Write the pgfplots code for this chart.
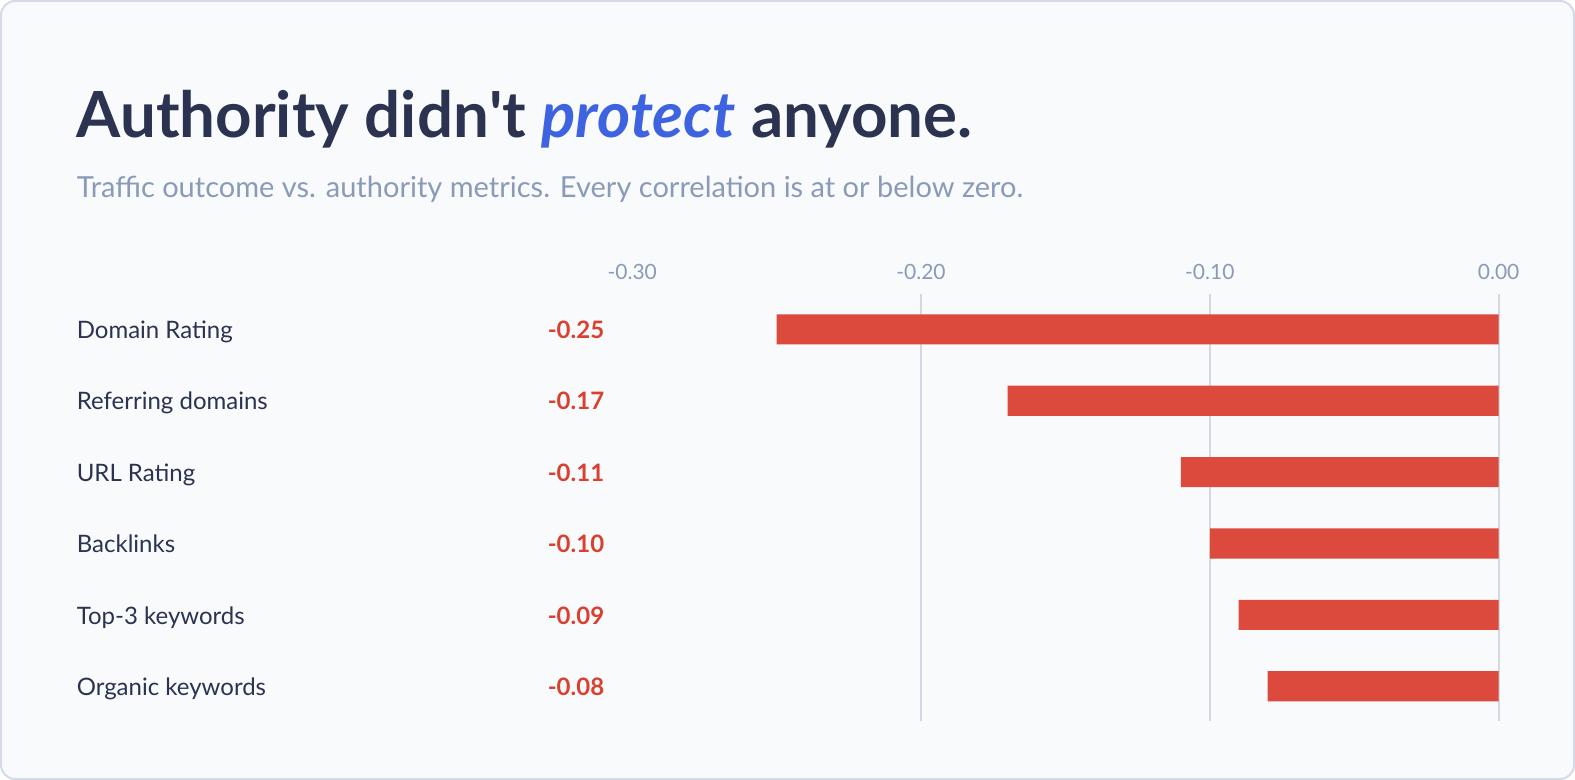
\documentclass[border=0pt]{standalone}
\usepackage{pgfplots}
\pgfplotsset{compat=1.18}
\usepackage{pgfplotstable}
\usepackage{fontspec}
\setmainfont{Lato}

\definecolor{bgpanel}{HTML}{F9FAFC}
\definecolor{panelline}{HTML}{D5DBE6}
\definecolor{ink}{HTML}{2B3350}
\definecolor{accent}{HTML}{3D63E0}
\definecolor{muted}{HTML}{8A9BB8}
\definecolor{barred}{HTML}{DB4A3C}
\definecolor{valred}{HTML}{D9402F}
\definecolor{gridc}{HTML}{D3D8E4}

% correlation of traffic outcome with each authority metric
\pgfplotstableread[col sep=comma]{
y,val,name
0,-0.25,Domain Rating
1,-0.17,Referring domains
2,-0.11,URL Rating
3,-0.10,Backlinks
4,-0.09,Top-3 keywords
5,-0.08,Organic keywords
}\corrtable

\begin{document}
\begin{tikzpicture}
  \useasboundingbox (0pt,0pt) rectangle (787.5pt,-390pt);
  \fill[bgpanel, draw=panelline, line width=1pt, rounded corners=7pt]
    (0.5pt,-0.5pt) rectangle (787pt,-389.5pt);

  % heading
  \node[anchor=base west, inner sep=0pt, text=ink, font=\fontsize{31.8}{36}\selectfont\bfseries]
    at (38.2pt,-69pt) {Authority didn\textquotesingle t \textcolor{accent}{\itshape protect} anyone.};
  \node[anchor=base west, inner sep=0pt, text=muted, font=\fontsize{14.5}{18}\selectfont]
    at (38.2pt,-99pt) {Traffic outcome vs. authority metrics. Every correlation is at or below zero.};

  \begin{axis}[
    scale only axis,
    width=433.2pt, height=213.4pt,
    anchor=north west, at={(316.1pt,-147.2pt)},
    xmin=-0.30, xmax=0,
    ymin=-0.49, ymax=5.49,
    y dir=reverse,
    clip=false,
    axis line style={draw=none},
    tick style={draw=none},
    major tick length=0pt,
    ytick=\empty,
    xtick={-0.2,-0.1,0},
    xticklabels={-0.20,-0.10,0.00},
    extra x ticks={-0.3},
    extra x tick labels={-0.30},
    extra x tick style={grid=none},
    xticklabel pos=upper,
    xmajorgrids,
    major grid style={draw=gridc, line width=1pt},
    xticklabel style={anchor=base, yshift=7.5pt, text=muted,
      font=\fontsize{10.5}{12}\selectfont},
  ]
    % bars
    \addplot[xbar, bar width=15.1pt, fill=barred, draw=none]
      table[x=val, y=y] {\corrtable};
    % value labels, right-aligned in a column left of the plot area
    \addplot[draw=none, mark=none, nodes near coords, point meta=explicit symbolic,
      nodes near coords style={anchor=base east, inner sep=0pt, yshift=-4.6pt,
        text=valred, font=\fontsize{12}{14}\selectfont\bfseries}]
      table[x expr=-0.30956, y=y, meta=val] {\corrtable};
    % metric names
    \addplot[draw=none, mark=none, nodes near coords, point meta=explicit symbolic,
      nodes near coords style={anchor=base west, inner sep=0pt, yshift=-4.6pt,
        text=ink, font=\fontsize{12}{14}\selectfont}]
      table[x expr=-0.49245, y=y, meta=name] {\corrtable};
  \end{axis}
\end{tikzpicture}
\end{document}
